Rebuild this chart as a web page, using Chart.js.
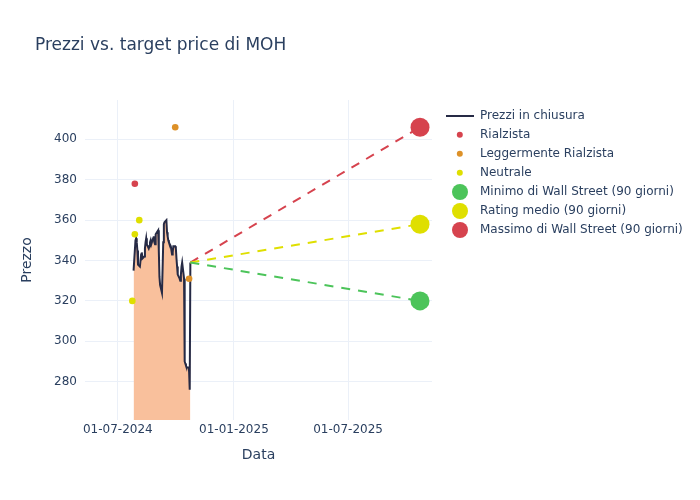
<!DOCTYPE html>
<html>
<head>
<meta charset="utf-8">
<script src="https://cdn.jsdelivr.net/npm/chart.js@4.4.1/dist/chart.umd.min.js"></script>
<style>
  body { margin: 0; background: #fff; font-family: "DejaVu Sans", sans-serif; }
  #wrap { position: relative; width: 700px; height: 500px; }
  #titolo { position: absolute; left: 35px; top: 34px; font-size: 17px; line-height: 20px; color: #2a3f5f; }
  #legenda { position: absolute; left: 445px; top: 106px; font-size: 12px; color: #2a3f5f; }
  .voce { position: relative; height: 19px; line-height: 19px; padding-left: 35px; white-space: nowrap; }
  .simbolo { position: absolute; left: 15px; top: 9.5px; transform: translate(-50%, -50%); border-radius: 50%; }
  .linea { position: absolute; left: 1px; top: 8.5px; width: 28px; height: 2.5px; background: #262a45; }
</style>
</head>
<body>
<div id="wrap">
  <canvas id="myChartPrezzi" width="700" height="500"></canvas>
  <div id="titolo">Prezzi vs. target price di MOH</div>
  <div id="legenda"></div>
</div>
<script>
// prezzi di chiusura
const priceDates = [
  '2024-07-26','2024-07-29','2024-07-30','2024-07-31','2024-08-01','2024-08-02',
  '2024-08-05','2024-08-06','2024-08-07','2024-08-08','2024-08-09','2024-08-12','2024-08-13',
  '2024-08-14','2024-08-15','2024-08-16','2024-08-19','2024-08-20','2024-08-21','2024-08-22',
  '2024-08-23','2024-08-26','2024-08-27','2024-08-28','2024-08-29','2024-08-30','2024-09-03',
  '2024-09-04','2024-09-05','2024-09-06','2024-09-09','2024-09-10','2024-09-11','2024-09-12',
  '2024-09-13','2024-09-16','2024-09-17','2024-09-18','2024-09-19','2024-09-20','2024-09-23',
  '2024-09-24','2024-09-25','2024-09-26','2024-09-27','2024-09-30','2024-10-01','2024-10-02',
  '2024-10-03','2024-10-04','2024-10-07','2024-10-08','2024-10-09','2024-10-10','2024-10-11',
  '2024-10-14','2024-10-15','2024-10-16','2024-10-17','2024-10-18','2024-10-21','2024-10-22',
  '2024-10-23','2024-10-24'
]
const priceValues = [
  335, 350, 351, 349, 345, 338,
  337, 340, 343, 344, 341, 342, 346,
  349, 351, 348, 346, 347, 349, 350,
  348, 351, 352, 349, 348, 353, 355,
  345, 332, 328, 324, 336, 349, 358,
  359, 360, 354, 352, 350, 349, 347,
  345, 343, 344, 347, 347, 346, 341,
  337, 333, 331, 330, 333, 337, 339,
  331, 290, 289, 288, 287, 287, 285,
  276, 339
]

// giudizi degli analisti
const rialzistaDates = ['2024-07-28']
const rialzistaValues = [378]
const leggermenteDates = ['2024-09-30', '2024-10-22']
const leggermenteValues = [406, 331]
const neutraleDates = ['2024-07-24', '2024-07-28', '2024-08-04']
const neutraleValues = [320, 353, 360]

// target a 90 giorni
const targetDate = '2025-10-23'
const targetMin = 320
const targetMedio = 358
const targetMax = 406

// assi
const xRange = ['2024-05-10', '2025-11-11']
const xTickDates = ['2024-07-01', '2025-01-01', '2025-07-01']
const xTickLabels = ['01-07-2024', '01-01-2025', '01-07-2025']
const yRange = [261, 419.5]
const yTicks = [280, 300, 320, 340, 360, 380, 400]

const colori = {
    linea: '#262a45',
    area: '#f9c09c',
    rosso: '#d6434e',
    arancio: '#dd9128',
    giallo: '#dfdf00',
    verde: '#4cc45a',
    testo: '#2a3f5f',
    griglia: '#ebf0f8'
}

const ms = d => Date.parse(d + 'T00:00:00Z')
const punti = (dates, values) => dates.map((d, i) => ({x: ms(d), y: values[i]}))

const ultimo = {x: ms(priceDates[priceDates.length - 1]), y: priceValues[priceValues.length - 1]}

const lineaTarget = (label, valore, colore) => ({
    type: 'line',
    label,
    data: [ultimo, {x: ms(targetDate), y: valore}],
    borderColor: colore,
    backgroundColor: colore,
    borderWidth: 2,
    borderDash: [9, 8],
    pointRadius: [0, 9.5],
    pointHoverRadius: [0, 9.5],
    pointBorderWidth: 0,
    fill: false,
    order: 1
})

const puntiRating = (label, dates, values, colore) => ({
    type: 'scatter',
    label,
    data: punti(dates, values),
    backgroundColor: colore,
    borderWidth: 0,
    pointRadius: 3.3,
    order: 0
})

const datasets = [
    {
        type: 'line',
        label: 'Prezzi in chiusura',
        data: punti(priceDates, priceValues),
        borderColor: colori.linea,
        backgroundColor: colori.area,
        borderWidth: 2,
        pointRadius: 0,
        fill: 'start',
        tension: 0,
        order: 2
    },
    puntiRating('Rialzista', rialzistaDates, rialzistaValues, colori.rosso),
    puntiRating('Leggermente Rialzista', leggermenteDates, leggermenteValues, colori.arancio),
    puntiRating('Neutrale', neutraleDates, neutraleValues, colori.giallo),
    lineaTarget('Minimo di Wall Street (90 giorni)', targetMin, colori.verde),
    lineaTarget('Rating medio (90 giorni)', targetMedio, colori.giallo),
    lineaTarget('Massimo di Wall Street (90 giorni)', targetMax, colori.rosso)
]

const font12 = {family: 'DejaVu Sans', size: 12}
const font14 = {family: 'DejaVu Sans', size: 14}

const options = {
    responsive: false,
    animation: false,
    layout: {padding: {top: 100, right: 268, bottom: 0, left: 0}},
    plugins: {
        legend: {display: false},
        tooltip: {enabled: false}
    },
    scales: {
        x: {
            type: 'linear',
            min: ms(xRange[0]),
            max: ms(xRange[1]),
            afterBuildTicks: s => { s.ticks = xTickDates.map(d => ({value: ms(d)})) },
            afterFit: s => { s.height = 80 },
            ticks: {
                callback: (v, i) => xTickLabels[i],
                font: font12,
                color: colori.testo,
                padding: 3,
                maxRotation: 0,
                autoSkip: false
            },
            grid: {color: colori.griglia, drawTicks: false},
            border: {display: false},
            title: {display: true, text: 'Data', font: font14, color: colori.testo, padding: {top: 0, bottom: 36}}
        },
        y: {
            min: yRange[0],
            max: yRange[1],
            afterBuildTicks: s => { s.ticks = yTicks.map(v => ({value: v})) },
            afterFit: s => { s.width = 85 },
            ticks: {font: font12, color: colori.testo, padding: 8},
            grid: {color: colori.griglia, drawTicks: false},
            border: {display: false},
            title: {display: true, text: 'Prezzo', font: font14, color: colori.testo, padding: {top: 19, bottom: 0}}
        }
    }
}

new Chart('myChartPrezzi', {data: {datasets}, options})

// legenda
const vociLegenda = [
    {testo: 'Prezzi in chiusura', linea: true},
    {testo: 'Rialzista', colore: colori.rosso, r: 3.2},
    {testo: 'Leggermente Rialzista', colore: colori.arancio, r: 3.2},
    {testo: 'Neutrale', colore: colori.giallo, r: 3.2},
    {testo: 'Minimo di Wall Street (90 giorni)', colore: colori.verde, r: 8},
    {testo: 'Rating medio (90 giorni)', colore: colori.giallo, r: 8},
    {testo: 'Massimo di Wall Street (90 giorni)', colore: colori.rosso, r: 8}
]
const legenda = document.querySelector('#legenda')
vociLegenda.forEach(v => {
    const riga = document.createElement('div')
    riga.className = 'voce'
    const sim = document.createElement('span')
    if (v.linea) {
        sim.className = 'linea'
    } else {
        sim.className = 'simbolo'
        sim.style.width = sim.style.height = (v.r * 2) + 'px'
        sim.style.background = v.colore
    }
    riga.appendChild(sim)
    riga.appendChild(document.createTextNode(v.testo))
    legenda.appendChild(riga)
})
</script>
</body>
</html>
